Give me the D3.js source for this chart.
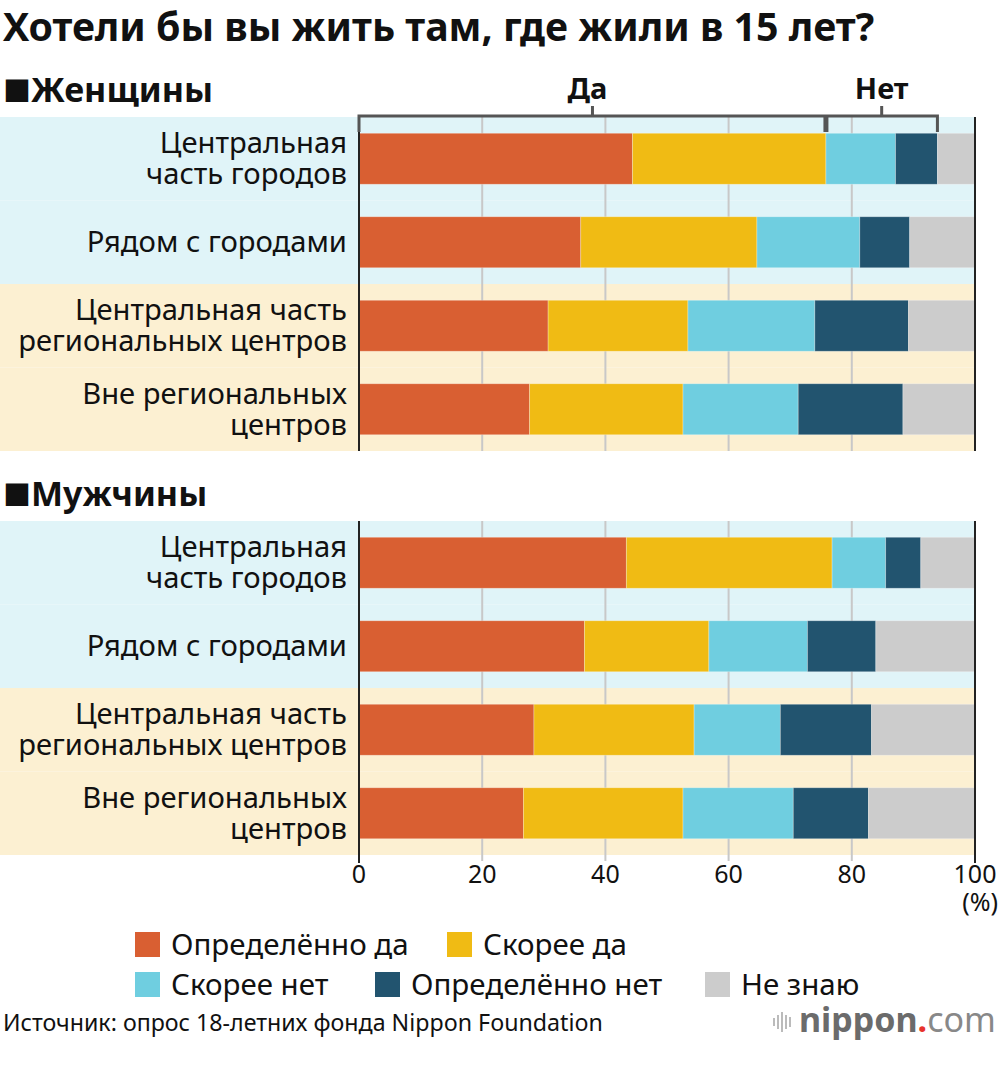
<!DOCTYPE html>
<html>
<head>
<meta charset="utf-8">
<script src="https://cdn.jsdelivr.net/npm/d3@7"></script>
<style>
  body { margin: 0; background: #fff; }
  svg text { font-family: "Noto Sans", "Open Sans", sans-serif; fill: #111; }
</style>
</head>
<body>
<div id="chart"></div>
<script>
// Data (percent)
var categories = [
    ["Центральная", "часть городов"],
    ["Рядом с городами"],
    ["Центральная часть", "региональных центров"],
    ["Вне региональных", "центров"]
];
var groups = ["Женщины", "Мужчины"];
var seriesNames = ["Определённо да", "Скорее да", "Скорее нет", "Определённо нет", "Не знаю"];
var women = [
    [44.4, 31.4, 11.3, 6.8, 6.1],
    [36.0, 28.6, 16.7, 8.1, 10.6],
    [30.7, 22.7, 20.6, 15.2, 10.8],
    [27.7, 24.9, 18.7, 17.0, 11.7]
];
var men = [
    [43.4, 33.4, 8.7, 5.7, 8.8],
    [36.6, 20.2, 16.0, 11.1, 16.1],
    [28.4, 26.0, 14.0, 14.8, 16.8],
    [26.7, 25.9, 17.9, 12.2, 17.3]
];
var xTicks = [0, 20, 40, 60, 80, 100];
var colors = ["#d95f32", "#f0bb14", "#6fcee0", "#22546f", "#cccccc"];
var bandColors = ["#e0f4f8", "#e0f4f8", "#fcf0d2", "#fcf0d2"];

var w = 1000, h = 1070;
var svg = d3.select("#chart").append("svg")
    .attr("width", w)
    .attr("height", h);

var xScale = d3.scaleLinear().domain([0, 100]).range([359, 975]);

// Title
svg.append("text")
    .attr("x", 3).attr("y", 41)
    .attr("font-size", 39.3).attr("font-weight", "bold")
    .text("Хотели бы вы жить там, где жили в 15 лет?");

var stack = d3.stack().keys(d3.range(seriesNames.length));

var sections = [
    { name: groups[0], data: women, top: 117 },
    { name: groups[1], data: men, top: 521 }
];

sections.forEach(function(sec, si) {
    var yScale = d3.scaleBand()
        .domain(d3.range(categories.length))
        .range([sec.top, sec.top + 334])
        .paddingInner(0).paddingOuter(0);
    var barH = 51;

    // Section heading
    var head = svg.append("text")
        .attr("x", 3).attr("y", sec.top - 15)
        .attr("font-size", 34).attr("font-weight", "bold");
    head.append("tspan")
        .attr("font-family", "'Noto Sans CJK JP', sans-serif")
        .attr("font-size", 28)
        .text("■");
    head.append("tspan").text(sec.name);

    // Background bands
    svg.selectAll(null)
        .data(d3.range(categories.length))
        .enter().append("rect")
        .attr("x", 0)
        .attr("y", function(i) { return yScale(i); })
        .attr("width", xScale(100))
        .attr("height", yScale.bandwidth())
        .attr("fill", function(i) { return bandColors[i]; });

    // Grid lines
    svg.selectAll(null)
        .data(xTicks.slice(1, -1))
        .enter().append("line")
        .attr("x1", function(d) { return xScale(d); })
        .attr("x2", function(d) { return xScale(d); })
        .attr("y1", sec.top)
        .attr("y2", sec.top + 334 + (si === 1 ? 6 : 0))
        .attr("stroke", "#c8c8c8")
        .attr("stroke-width", 2);

    // Stacked bars
    var series = stack(sec.data);
    svg.append("g").selectAll("g")
        .data(series)
        .enter().append("g")
        .attr("fill", function(d, k) { return colors[k]; })
        .selectAll("rect")
        .data(function(d) { return d; })
        .enter().append("rect")
        .attr("x", function(d) { return xScale(d[0]); })
        .attr("y", function(d, i) { return yScale(i) + (yScale.bandwidth() - barH) / 2; })
        .attr("width", function(d) { return xScale(d[1]) - xScale(d[0]); })
        .attr("height", barH)
        .attr("stroke", "rgba(255,255,255,0.35)")
        .attr("stroke-width", 0.8);

    // Frame lines at 0 and 100
    [0, 100].forEach(function(v) {
        svg.append("line")
            .attr("x1", xScale(v)).attr("x2", xScale(v))
            .attr("y1", sec.top)
            .attr("y2", sec.top + 334 + (si === 1 ? 8 : 0))
            .attr("stroke", "#222")
            .attr("stroke-width", 2);
    });

    // Category labels
    categories.forEach(function(lines, i) {
        var cy = yScale(i) + yScale.bandwidth() / 2;
        var lh = 31;
        var t = svg.append("text")
            .attr("text-anchor", "end")
            .attr("font-size", 29.2);
        lines.forEach(function(line, j) {
            t.append("tspan")
                .attr("x", 347)
                .attr("y", cy + 10 + (j - (lines.length - 1) / 2) * lh)
                .text(line);
        });
    });
});

// Bracket over the first women bar: "Да" and "Нет"
var first = women[0];
var yesEnd = first[0] + first[1];
var noEnd = yesEnd + first[2] + first[3];
var by = 116, barTop = 132;
var bracket = svg.append("g")
    .attr("stroke", "#555").attr("fill", "none");
bracket.append("path")
    .attr("d", "M" + xScale(0) + "," + barTop + "V" + by + "H" + xScale(noEnd) + "V" + barTop)
    .attr("stroke-width", 3);
bracket.append("line")
    .attr("x1", xScale(yesEnd)).attr("x2", xScale(yesEnd))
    .attr("y1", by).attr("y2", barTop)
    .attr("stroke-width", 5);
bracket.append("line")
    .attr("x1", xScale(yesEnd / 2)).attr("x2", xScale(yesEnd / 2))
    .attr("y1", by).attr("y2", by - 10)
    .attr("stroke-width", 3);
bracket.append("line")
    .attr("x1", xScale((yesEnd + noEnd) / 2)).attr("x2", xScale((yesEnd + noEnd) / 2))
    .attr("y1", by).attr("y2", by - 10)
    .attr("stroke-width", 3);
svg.append("text")
    .attr("x", xScale(yesEnd / 2) - 5).attr("y", 99)
    .attr("text-anchor", "middle")
    .attr("font-size", 29).attr("font-weight", "bold")
    .text("Да");
svg.append("text")
    .attr("x", xScale((yesEnd + noEnd) / 2)).attr("y", 99)
    .attr("text-anchor", "middle")
    .attr("font-size", 29).attr("font-weight", "bold")
    .text("Нет");

// X axis tick labels
svg.selectAll(null)
    .data(xTicks)
    .enter().append("text")
    .attr("x", function(d) { return xScale(d); })
    .attr("y", 883)
    .attr("text-anchor", "middle")
    .attr("font-family", "'Liberation Sans', Arial, sans-serif")
    .attr("font-size", 25)
    .text(function(d) { return d; });
svg.append("text")
    .attr("x", 998).attr("y", 911)
    .attr("text-anchor", "end")
    .attr("font-family", "'Liberation Sans', Arial, sans-serif")
    .attr("font-size", 25)
    .text("(%)");

// Legend
var legendPos = [
    { x: 135, y: 932 }, { x: 447, y: 932 },
    { x: 135, y: 972 }, { x: 375, y: 972 }, { x: 705, y: 972 }
];
var legend = svg.selectAll(".legend")
    .data(seriesNames)
    .enter().append("g")
    .attr("class", "legend")
    .attr("transform", function(d, i) { return "translate(" + legendPos[i].x + "," + legendPos[i].y + ")"; });
legend.append("rect")
    .attr("width", 25).attr("height", 25)
    .attr("fill", function(d, i) { return colors[i]; });
legend.append("text")
    .attr("x", 36).attr("y", 23)
    .attr("font-size", 29.5)
    .text(function(d) { return d; });

// Source
svg.append("text")
    .attr("x", 3).attr("y", 1031)
    .attr("font-size", 23.2)
    .text("Источник: опрос 18-летних фонда Nippon Foundation");

// nippon.com logo
var logo = svg.append("g").attr("transform", "translate(773,1032)");
[[0, 8], [4, 14], [8, 20], [12, 14], [16, 10]].forEach(function(b) {
    logo.append("rect")
        .attr("x", b[0]).attr("y", -10 - b[1] / 2)
        .attr("width", 2).attr("height", b[1])
        .attr("fill", "#bbb");
});
var lt = logo.append("text")
    .attr("x", 26).attr("y", 0)
    .attr("font-size", 34);
lt.append("tspan").attr("font-weight", "bold").style("fill", "#6b6b6b").text("nippon");
lt.append("tspan").attr("font-weight", "bold").style("fill", "#e8322b").text(".");
lt.append("tspan").style("fill", "#888").text("com");
</script>
</body>
</html>
